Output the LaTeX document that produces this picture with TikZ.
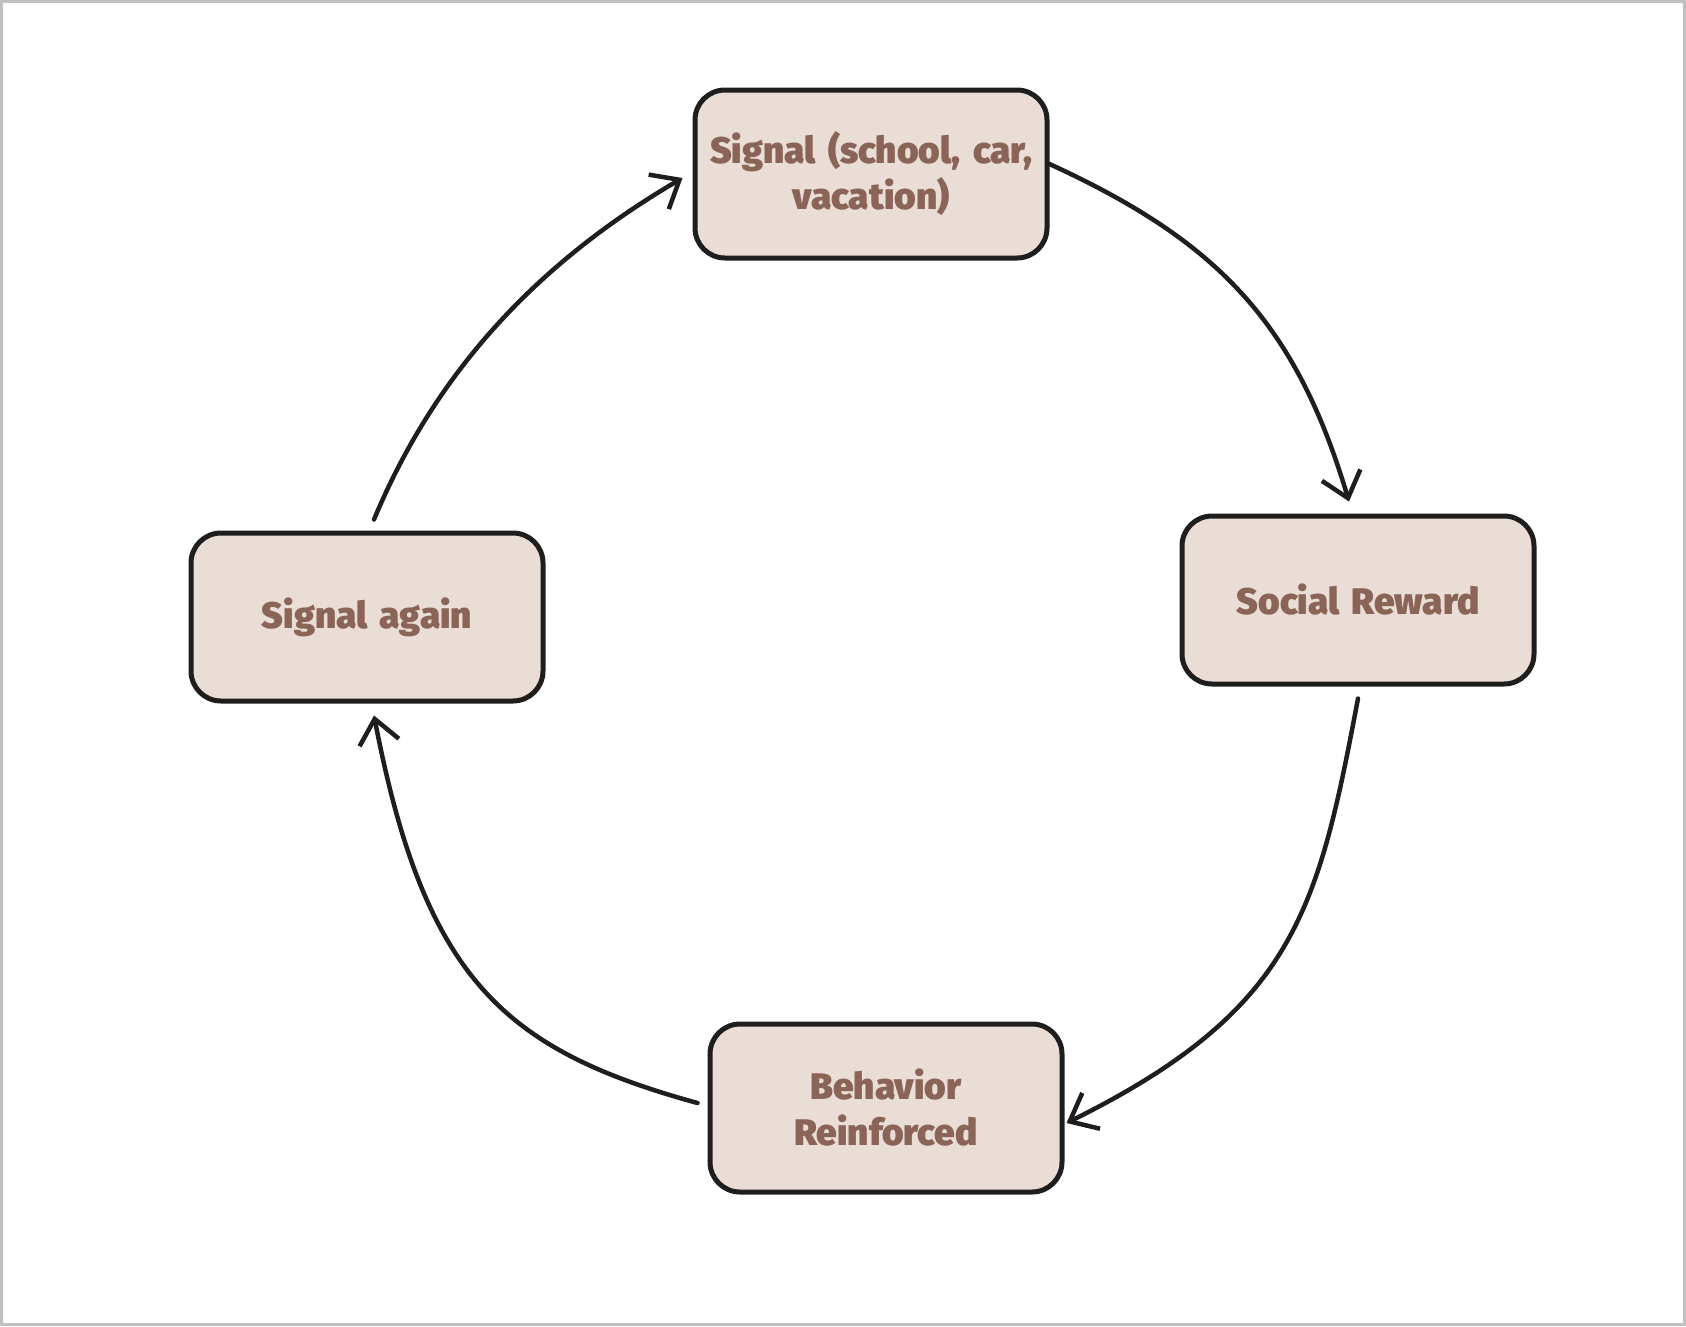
\documentclass[tikz,border=0pt]{standalone}
\usepackage{fontspec}
\setmainfont{Fira Sans}[BoldFont={Fira Sans Black}]
\usetikzlibrary{arrows.meta}
\definecolor{boxfill}{HTML}{EADDD6}
\definecolor{boxtext}{HTML}{8A6456}
\definecolor{ink}{HTML}{1E1E1E}
\definecolor{frame}{HTML}{C0C0C0}
\tikzset{
  stagebox/.style={draw=ink, line width=5pt, fill=boxfill, rounded corners=30pt,
    minimum width=352pt, minimum height=168pt, align=center, text width=345pt,
    text=boxtext, font=\bfseries\fontsize{37}{46}\selectfont, inner sep=0pt},
  arr/.style={draw=ink, line width=4.5pt, line cap=round,
    -{Straight Barb[length=24pt,width=40pt,line width=4.5pt]}}
}
\begin{document}
\begin{tikzpicture}[x=1pt,y=-1pt]
\useasboundingbox (0,0) rectangle (1686,1326);
\draw[frame, line width=3pt] (1.5,1.5) rectangle (1684.5,1324.5);
\node[stagebox] (sig) at (871,174) {Signal (school, car,\\vacation)};
\node[stagebox] (rew) at (1358,600) {Social Reward};
\node[stagebox] (sa) at (367,617) {Signal again};
\node[stagebox] (beh) at (886,1108) {Behavior\\Reinforced};
\draw[arr] ([yshift=10pt]sig.east) .. controls (1215,240) and (1295,320) .. ([xshift=-9pt,yshift=12pt]rew.north);
\draw[arr] ([yshift=-12pt]rew.south) .. controls (1318,910) and (1295,1010) .. ([xshift=2pt,yshift=-15pt]beh.east);
\draw[arr] ([xshift=-10pt,yshift=5pt]beh.west) .. controls (505,1050) and (425,980) .. ([xshift=7pt,yshift=-12pt]sa.south);
\draw[arr] ([xshift=7pt,yshift=11pt]sa.north) .. controls (430,385) and (525,270) .. ([xshift=-10pt,yshift=-4pt]sig.west);
\end{tikzpicture}
\end{document}
